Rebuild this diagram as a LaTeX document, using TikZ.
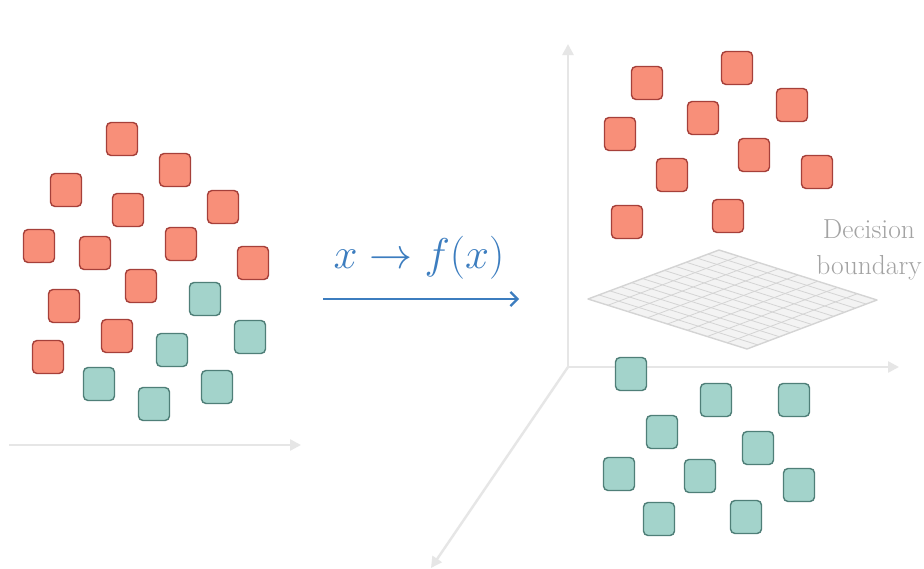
\documentclass[tikz,border=0pt]{standalone}
\usetikzlibrary{arrows.meta,calc}
\definecolor{redfill}{HTML}{F88F79}
\definecolor{redline}{HTML}{A6403A}
\definecolor{tealfill}{HTML}{A3D3CB}
\definecolor{tealline}{HTML}{4F7F78}
\definecolor{axisgray}{HTML}{E6E6E6}
\definecolor{mapblue}{HTML}{3C7DBF}
\definecolor{planefill}{HTML}{F3F3F3}
\definecolor{planeline}{HTML}{D4D4D4}
\definecolor{labelgray}{HTML}{A3A3A3}
\tikzset{
  pt/.style={draw, rounded corners=4.5pt, minimum width=31pt, minimum height=33pt, inner sep=0pt, line width=1.4pt},
  redpt/.style={pt, fill=redfill, draw=redline},
  tealpt/.style={pt, fill=tealfill, draw=tealline},
  axisline/.style={draw=axisgray, line width=2.4pt, -{Triangle[length=11pt,width=11pt]}},
}
\begin{document}
\begin{tikzpicture}[x=1pt,y=-1pt]
\useasboundingbox[fill=white] (0,0) rectangle (924,568);

% left axis
\coordinate (la0) at (9,445);
\coordinate (la1) at (301,445);
\draw[axisline] (la0) -- (la1);

% left cluster
\foreach \x/\y [count=\i] in {122/139,175/170,66/190,128/210,223/207,39/246,95/253,181/244,253/263,141/286,64/306,117/336,48/357}
  \node[redpt] (lr\i) at (\x,\y) {};
\foreach \x/\y [count=\i] in {205/299,250/337,172/350,99/384,154/404,217/387}
  \node[tealpt] (lt\i) at (\x,\y) {};

% mapping arrow
\node[text=mapblue, font=\Huge, inner sep=0pt] (map) at (419,258) {\scalebox{1.73}{$x \to f(x)$}};
\coordinate (ma0) at (323,299);
\coordinate (ma1) at (519,299);
\draw[mapblue, line width=2.4pt, -{Straight Barb[length=7pt,width=14pt,line width=2.2pt]}] (ma0) -- (ma1);

% right axes
\coordinate (o) at (568,367);
\coordinate (ay) at (568,44);
\coordinate (ax) at (899,367);
\coordinate (az) at (431,568);
\draw[axisline] (o) -- (ay);
\draw[axisline] (o) -- (ax);
\draw[axisline] (o) -- (az);

% decision plane
\coordinate (pl) at (588,299);
\coordinate (pt) at (719,250);
\coordinate (pr) at (877,300);
\coordinate (pb) at (747,349);
\fill[planefill] (pl) -- (pt) -- (pr) -- (pb) -- cycle;
\foreach \i in {1,...,11} {
  \draw[planeline, line width=0.8pt] ($(pl)!\i/12!(pt)$) -- ($(pb)!\i/12!(pr)$);
}
\foreach \i in {1,...,7} {
  \draw[planeline, line width=0.8pt] ($(pl)!\i/8!(pb)$) -- ($(pt)!\i/8!(pr)$);
}
\draw[planeline, line width=1.4pt, line join=round] (pl) -- (pt) -- (pr) -- (pb) -- cycle;

\node[text=labelgray, font=\fontsize{27.5}{36}\selectfont, align=center] (lbl) at (869,250) {Decision\\boundary};

% right red cluster
\foreach \x/\y [count=\i] in {647/83,737/68,792/105,703/118,620/134,754/155,672/175,817/172,627/222,728/216}
  \node[redpt] (rr\i) at (\x,\y) {};
% right teal cluster
\foreach \x/\y [count=\i] in {631/374,716/400,794/400,662/432,758/448,619/474,700/476,799/485,659/519,746/517}
  \node[tealpt] (rt\i) at (\x,\y) {};
\end{tikzpicture}
\end{document}
